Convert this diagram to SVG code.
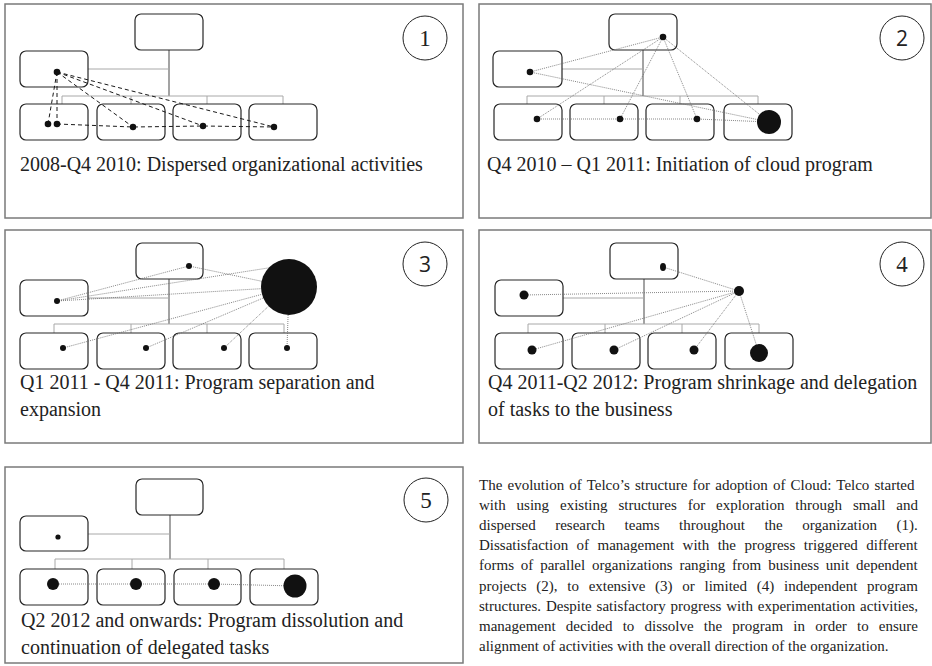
<svg xmlns="http://www.w3.org/2000/svg" width="932" height="666" viewBox="0 0 932 666">
  <style>
    .frame { fill: none; stroke: #7a7a7a; stroke-width: 1.5; }
    .box { fill: #fff; stroke: #262626; stroke-width: 1.2; }
    .org { fill: none; stroke: #a8a8a8; stroke-width: 1; }
    .trunk { fill: none; stroke: #8c8c8c; stroke-width: 1.6; }
    .dash { fill: none; stroke: #1a1a1a; stroke-width: 1; stroke-dasharray: 4 3; }
    .dot { fill: none; stroke: #6a6a6a; stroke-width: 0.8; stroke-dasharray: 1 1; }
    .pt { fill: #111; }
    .badge { fill: #fff; stroke: #222; stroke-width: 1; }
    .num { font-family: "Liberation Serif", "Times New Roman", serif; font-size: 23px; fill: #222; text-anchor: middle; }
    .num-s { font-family: "Open Sans", "DejaVu Sans", sans-serif; font-size: 21px; fill: #222; text-anchor: middle; }
    .cap { font-family: "Liberation Serif", "Times New Roman", serif; font-size: 20px; fill: #222; }
    .para { font-family: "Liberation Serif", "Times New Roman", serif; font-size: 15px; fill: #222; }
  </style>

  <!-- ===== Stage 1 ===== -->
  <g id="stage1">
    <rect class="frame" x="5" y="4" width="458" height="214"/>
    <g id="s1-connectors">
      <path class="trunk" d="M169 50 V96"/>
      <path class="org" d="M88 69 H169 M62 96 H283 M62 96 V104 M131 96 V104 M207 96 V104 M283 96 V104"/>
    </g>
    <g id="s1-head"><rect class="box" x="135" y="14" width="68" height="36" rx="6"/></g>
    <g id="s1-staff"><rect class="box" x="20" y="51" width="68" height="36" rx="6"/></g>
    <g id="s1-unit1"><rect class="box" x="20" y="104" width="68" height="36" rx="6"/></g>
    <g id="s1-unit2"><rect class="box" x="97" y="104" width="68" height="36" rx="6"/></g>
    <g id="s1-unit3"><rect class="box" x="173" y="104" width="68" height="36" rx="6"/></g>
    <g id="s1-unit4"><rect class="box" x="249" y="104" width="68" height="36" rx="6"/></g>
    <g id="s1-teams">
      <path class="dash" d="M57 72 L48 124 M57 72 L57 124 M57 72 L133 127 M57 72 L203 126 M57 72 L274 127 M57 124 L133 127 L203 126 L274 127"/>
      <circle class="pt" cx="57" cy="72" r="3.3"/>
      <circle class="pt" cx="48" cy="124" r="3.3"/>
      <circle class="pt" cx="57" cy="124" r="3.3"/>
      <circle class="pt" cx="133" cy="127" r="3.2"/>
      <circle class="pt" cx="203" cy="126" r="3.2"/>
      <circle class="pt" cx="274" cy="127" r="3.2"/>
    </g>
    <g id="s1-badge"><circle class="badge" cx="425" cy="38" r="22"/><text class="num" x="425" y="46">1</text></g>
    <text class="cap" x="20" y="171">2008-Q4 2010: Dispersed organizational activities</text>
  </g>

  <!-- ===== Stage 2 ===== -->
  <g id="stage2">
    <rect class="frame" x="479" y="4" width="452" height="214"/>
    <g id="s2-connectors">
      <path class="trunk" d="M643 50 V96"/>
      <path class="org" d="M562 69 H643 M527 96 H758 M527 96 V104 M604 96 V104 M680 96 V104 M758 96 V104"/>
    </g>
    <g id="s2-head"><rect class="box" x="609" y="14" width="68" height="36" rx="6"/></g>
    <g id="s2-staff"><rect class="box" x="493" y="51" width="69" height="36" rx="6"/></g>
    <g id="s2-unit1"><rect class="box" x="494" y="104" width="68" height="36" rx="6"/></g>
    <g id="s2-unit2"><rect class="box" x="570" y="104" width="68" height="36" rx="6"/></g>
    <g id="s2-unit3"><rect class="box" x="646" y="104" width="68" height="36" rx="6"/></g>
    <g id="s2-unit4"><rect class="box" x="724" y="104" width="68" height="36" rx="6"/></g>
    <g id="s2-program">
      <path class="dot" d="M663 37 L530 72 M663 37 L537 119 M663 37 L620 119 M663 37 L697 119 M663 37 L769 122 M530 72 L769 122 M537 119 L620 119 L697 119 L769 122"/>
      <circle class="pt" cx="663" cy="37" r="3.3"/>
      <circle class="pt" cx="530" cy="72" r="3.3"/>
      <circle class="pt" cx="537" cy="119" r="3.3"/>
      <circle class="pt" cx="620" cy="119" r="3.3"/>
      <circle class="pt" cx="697" cy="119" r="3.3"/>
      <circle class="pt" cx="769" cy="122" r="12"/>
    </g>
    <g id="s2-badge"><circle class="badge" cx="902" cy="38" r="22"/><text class="num-s" x="902" y="46">2</text></g>
    <text class="cap" x="487" y="171">Q4 2010 – Q1 2011: Initiation of cloud program</text>
  </g>

  <!-- ===== Stage 3 ===== -->
  <g id="stage3">
    <rect class="frame" x="5" y="230" width="458" height="213"/>
    <g id="s3-connectors">
      <path class="trunk" d="M169 279 V324"/>
      <path class="org" d="M88 298 H169 M54 324 H284 M54 324 V333 M131 324 V333 M207 324 V333 M284 324 V333"/>
    </g>
    <g id="s3-head"><rect class="box" x="136" y="243" width="67" height="36" rx="6"/></g>
    <g id="s3-staff"><rect class="box" x="20" y="280" width="68" height="36" rx="6"/></g>
    <g id="s3-unit1"><rect class="box" x="20" y="333" width="68" height="36" rx="6"/></g>
    <g id="s3-unit2"><rect class="box" x="97" y="333" width="68" height="36" rx="6"/></g>
    <g id="s3-unit3"><rect class="box" x="173" y="333" width="68" height="36" rx="6"/></g>
    <g id="s3-unit4"><rect class="box" x="249" y="333" width="68" height="36" rx="6"/></g>
    <g id="s3-program">
      <path class="dot" d="M189 266 L289 287 M57 301 L189 266 M57 301 L268 268 M57 301 L289 287 M63 348 L289 287 M146 348 L289 287 M224 348 L289 287 M287 348 L289 287"/>
      <circle class="pt" cx="189" cy="266" r="3"/>
      <circle class="pt" cx="57" cy="301" r="3"/>
      <circle class="pt" cx="63" cy="348" r="3"/>
      <circle class="pt" cx="146" cy="348" r="3"/>
      <circle class="pt" cx="224" cy="348" r="3"/>
      <circle class="pt" cx="287" cy="348" r="3"/>
      <circle class="pt" cx="289" cy="287" r="28"/>
    </g>
    <g id="s3-badge"><circle class="badge" cx="425" cy="264" r="22"/><text class="num-s" x="425" y="272">3</text></g>
    <text class="cap" x="20" y="389">Q1 2011 - Q4 2011: Program separation and</text>
    <text class="cap" x="20" y="416">expansion</text>
  </g>

  <!-- ===== Stage 4 ===== -->
  <g id="stage4">
    <rect class="frame" x="479" y="230" width="452" height="213"/>
    <g id="s4-connectors">
      <path class="trunk" d="M644 279 V324"/>
      <path class="org" d="M563 298 H644 M528 324 H759 M528 324 V333 M605 324 V333 M682 324 V333 M759 324 V333"/>
    </g>
    <g id="s4-head"><rect class="box" x="610" y="243" width="68" height="36" rx="6"/></g>
    <g id="s4-staff"><rect class="box" x="495" y="280" width="68" height="36" rx="6"/></g>
    <g id="s4-unit1"><rect class="box" x="495" y="333" width="68" height="36" rx="6"/></g>
    <g id="s4-unit2"><rect class="box" x="572" y="333" width="68" height="36" rx="6"/></g>
    <g id="s4-unit3"><rect class="box" x="648" y="333" width="68" height="36" rx="6"/></g>
    <g id="s4-unit4"><rect class="box" x="725" y="333" width="68" height="36" rx="6"/></g>
    <g id="s4-program">
      <path class="dot" d="M739 291 L663 267 M739 291 L524 295 M739 291 L532 350 M739 291 L614 350 M739 291 L694 350 M739 291 L759 353"/>
      <ellipse class="pt" cx="663" cy="267" rx="3" ry="4"/>
      <circle class="pt" cx="739" cy="291" r="5"/>
      <circle class="pt" cx="524" cy="295" r="4.5"/>
      <circle class="pt" cx="532" cy="350" r="4.5"/>
      <circle class="pt" cx="614" cy="350" r="4.5"/>
      <circle class="pt" cx="694" cy="350" r="4.5"/>
      <circle class="pt" cx="759" cy="353" r="9"/>
    </g>
    <g id="s4-badge"><circle class="badge" cx="902" cy="264" r="22"/><text class="num" x="902" y="272">4</text></g>
    <text class="cap" x="488" y="389">Q4 2011-Q2 2012: Program shrinkage and delegation</text>
    <text class="cap" x="488" y="416">of tasks to the business</text>
  </g>

  <!-- ===== Stage 5 ===== -->
  <g id="stage5">
    <rect class="frame" x="5" y="467" width="458" height="196"/>
    <g id="s5-connectors">
      <path class="trunk" d="M170 515 V559"/>
      <path class="org" d="M88 534 H170 M55 559 H284 M55 559 V569 M132 559 V569 M208 559 V569 M284 559 V569"/>
    </g>
    <g id="s5-head"><rect class="box" x="136" y="479" width="67" height="36" rx="6"/></g>
    <g id="s5-staff"><rect class="box" x="20" y="516" width="68" height="35" rx="6"/></g>
    <g id="s5-unit1"><rect class="box" x="20" y="569" width="68" height="36" rx="6"/></g>
    <g id="s5-unit2"><rect class="box" x="97" y="569" width="68" height="36" rx="6"/></g>
    <g id="s5-unit3"><rect class="box" x="174" y="569" width="67" height="36" rx="6"/></g>
    <g id="s5-unit4"><rect class="box" x="250" y="569" width="68" height="36" rx="6"/></g>
    <g id="s5-tasks">
      <path class="dot" d="M53 584 L136 584 L214 584 L295 586"/>
      <circle class="pt" cx="58" cy="537" r="2.6"/>
      <circle class="pt" cx="53" cy="584" r="6"/>
      <circle class="pt" cx="136" cy="584" r="6"/>
      <circle class="pt" cx="214" cy="584" r="6"/>
      <circle class="pt" cx="295" cy="586" r="11.5"/>
    </g>
    <g id="s5-badge"><circle class="badge" cx="426" cy="500" r="22"/><text class="num" x="426" y="508">5</text></g>
    <text class="cap" x="21" y="627">Q2 2012 and onwards: Program dissolution and</text>
    <text class="cap" x="21" y="654">continuation of delegated tasks</text>
  </g>

  <!-- ===== Description (justified lines via word-spacing) ===== -->
  <g id="description" class="para">
    <text x="479" y="490" word-spacing="1.41">The evolution of Telco’s structure for adoption of Cloud: Telco started</text>
    <text x="479" y="510.1" word-spacing="7.17">with using existing structures for exploration through small and</text>
    <text x="479" y="530.2" word-spacing="15.75">dispersed research teams throughout the organization (1).</text>
    <text x="479" y="550.3" word-spacing="4.69">Dissatisfaction of management with the progress triggered different</text>
    <text x="479" y="570.4" word-spacing="3.11">forms of parallel organizations ranging from business unit dependent</text>
    <text x="479" y="590.5" word-spacing="6.0">projects (2), to extensive (3) or limited (4) independent program</text>
    <text x="479" y="610.6" word-spacing="1.10">structures. Despite satisfactory progress with experimentation activities,</text>
    <text x="479" y="630.7" word-spacing="6.43">management decided to dissolve the program in order to ensure</text>
    <text x="479" y="650.8">alignment of activities with the overall direction of the organization.</text>
  </g>
</svg>
